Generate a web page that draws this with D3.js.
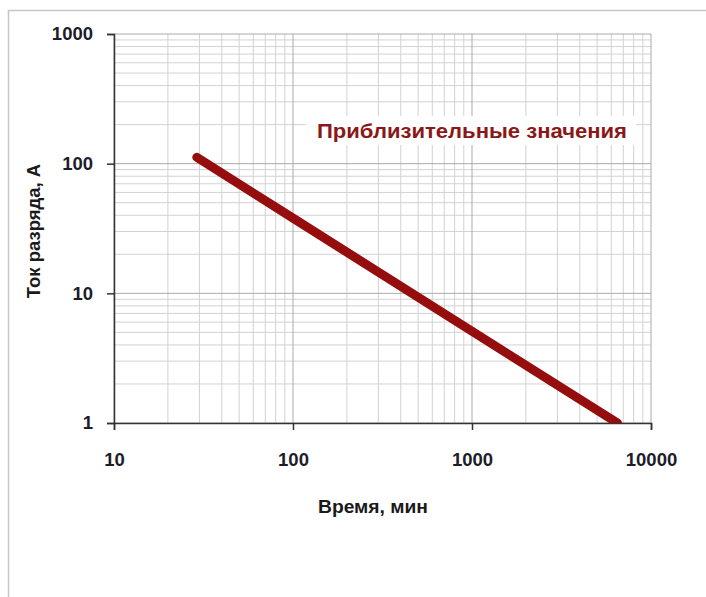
<!DOCTYPE html>
<html>
<head>
<meta charset="utf-8">
<script src="https://cdn.jsdelivr.net/npm/d3@7"></script>
<style>
  body { margin: 0; background: #fff; }
  text { font-family: "Liberation Sans", Arial, sans-serif; font-weight: bold; }
</style>
</head>
<body>
<svg width="706" height="597"></svg>
<script>
// discharge curve (time in min, current in A)
var timeMin = [29, 100, 1000, 6500];
var currentA = [112, 38, 5.1, 1];
var xTicks = [10, 100, 1000, 10000];
var yTicks = [1, 10, 100, 1000];
var note = "Приблизительные значения";

var width = 706, height = 597;
var svg = d3.select("svg");

var margin = {left: 114, top: 34, right: 706 - 651, bottom: 597 - 423};
var x = d3.scaleLog().domain([10, 10000]).range([margin.left, width - margin.right]);
var y = d3.scaleLog().domain([1, 1000]).range([height - margin.bottom, margin.top]);

// outer frame
svg.append("path")
  .attr("d", "M8.5,597 V10.5 H706")
  .attr("fill", "none")
  .attr("stroke", "#c6c6c6")
  .attr("stroke-width", 1.5);

// minor + major grid
function minors(lo, hi) {
  var out = [];
  for (var d = lo; d < hi; d *= 10)
    for (var k = 2; k <= 9; k++) out.push(d * k);
  return out;
}
var grid = svg.append("g");
grid.selectAll(".vx").data(minors(10, 10000)).enter().append("line")
  .attr("x1", d => x(d)).attr("x2", d => x(d))
  .attr("y1", y(1)).attr("y2", y(1000))
  .attr("stroke", "#d2d2d2").attr("stroke-width", 1);
grid.selectAll(".hy").data(minors(1, 1000)).enter().append("line")
  .attr("y1", d => y(d)).attr("y2", d => y(d))
  .attr("x1", x(10)).attr("x2", x(10000))
  .attr("stroke", "#d2d2d2").attr("stroke-width", 1);
grid.selectAll(".mx").data(xTicks).enter().append("line")
  .attr("x1", d => x(d)).attr("x2", d => x(d))
  .attr("y1", y(1)).attr("y2", y(1000))
  .attr("stroke", "#aaaaaa").attr("stroke-width", 1);
grid.selectAll(".my").data(yTicks).enter().append("line")
  .attr("y1", d => y(d)).attr("y2", d => y(d))
  .attr("x1", x(10)).attr("x2", x(10000))
  .attr("stroke", "#aaaaaa").attr("stroke-width", 1);

// axes
var xAxis = svg.append("g")
  .attr("transform", "translate(0," + y(1) + ")")
  .call(d3.axisBottom(x).tickValues(xTicks).tickFormat(d3.format("d")).tickSizeOuter(0).tickSize(7).tickPadding(23));
var yAxis = svg.append("g")
  .attr("transform", "translate(" + x(10) + ",0)")
  .call(d3.axisLeft(y).tickValues(yTicks).tickFormat(d3.format("d")).tickSizeOuter(0).tickSize(7).tickPadding(14));
[xAxis, yAxis].forEach(function(a) {
  a.select(".domain").attr("stroke", "#333").attr("stroke-width", 1.5);
  a.selectAll(".tick line").attr("stroke", "#333").attr("stroke-width", 1.5);
  a.selectAll("text").attr("font-size", 18.5).attr("fill", "#1c1c2a")
    .attr("font-family", "'Liberation Sans', Arial, sans-serif").attr("font-weight", "bold");
});

// data line, clipped to plot area
svg.append("clipPath").attr("id", "plot")
  .append("rect")
  .attr("x", x(10)).attr("y", y(1000))
  .attr("width", x(10000) - x(10)).attr("height", y(1) - y(1000));

var line = d3.line().x((d, i) => x(timeMin[i])).y((d, i) => y(currentA[i]));
svg.append("path")
  .datum(timeMin)
  .attr("clip-path", "url(#plot)")
  .attr("d", line)
  .attr("fill", "none")
  .attr("stroke", "#950d0d")
  .attr("stroke-width", 9)
  .attr("stroke-linecap", "round");

// annotation with white box
var noteG = svg.append("g");
noteG.append("rect")
  .attr("x", 306).attr("y", 116).attr("width", 330).attr("height", 29)
  .attr("fill", "#fff");
noteG.append("text")
  .attr("x", 317).attr("y", 138)
  .attr("font-size", 19.5)
  .attr("textLength", 310)
  .attr("lengthAdjust", "spacingAndGlyphs")
  .attr("fill", "#8b1818")
  .text(note);

// axis titles
svg.append("text")
  .attr("x", 318).attr("y", 513)
  .attr("font-size", 18.5)
  .attr("textLength", 110)
  .attr("lengthAdjust", "spacingAndGlyphs")
  .attr("fill", "#1a1a1a")
  .text("Время, мин");
svg.append("text")
  .attr("transform", "translate(40,231) rotate(-90)")
  .attr("text-anchor", "middle")
  .attr("font-size", 18.5)
  .attr("fill", "#1a1a1a")
  .text("Ток разряда, А");
</script>
</body>
</html>
